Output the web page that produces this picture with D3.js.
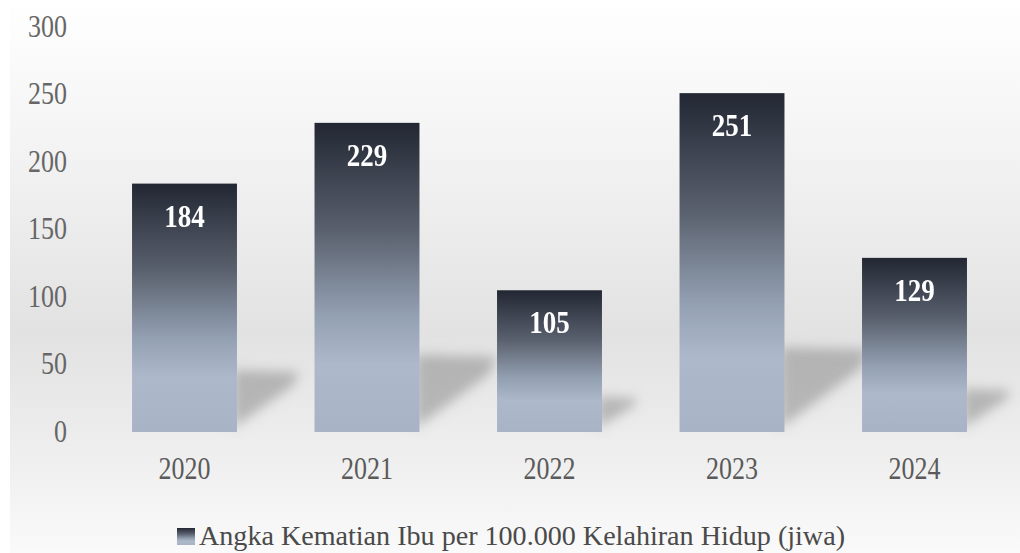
<!DOCTYPE html>
<html>
<head>
<meta charset="utf-8">
<script src="https://cdn.jsdelivr.net/npm/d3@7"></script>
<style>
  body { margin: 0; background: #fff; }
</style>
</head>
<body>
<div id="chart"></div>
<script>
const years = ["2020", "2021", "2022", "2023", "2024"];
const values = [184, 229, 105, 251, 129];
const yTicks = [0, 50, 100, 150, 200, 250, 300];
const legendLabel = "Angka Kematian Ibu per 100.000 Kelahiran Hidup (jiwa)";

const width = 1020, height = 553;
const svg = d3.select("#chart").append("svg")
  .attr("width", width)
  .attr("height", height);

const defs = svg.append("defs");

// background wash
let bg = defs.append("linearGradient").attr("id", "bg")
  .attr("x1", 0).attr("y1", 0).attr("x2", 0).attr("y2", 1);
bg.append("stop").attr("offset", "0%").attr("stop-color", "#ffffff");
bg.append("stop").attr("offset", "25%").attr("stop-color", "#f4f4f4");
bg.append("stop").attr("offset", "60%").attr("stop-color", "#e2e2e2");
bg.append("stop").attr("offset", "85%").attr("stop-color", "#f0f0f0");
bg.append("stop").attr("offset", "100%").attr("stop-color", "#fafafa");

// bar fill
let bar = defs.append("linearGradient").attr("id", "barFill")
  .attr("x1", 0).attr("y1", 0).attr("x2", 0).attr("y2", 1);
bar.append("stop").attr("offset", "0%").attr("stop-color", "#222733");
bar.append("stop").attr("offset", "35%").attr("stop-color", "#5a616e");
bar.append("stop").attr("offset", "62%").attr("stop-color", "#93a0b2");
bar.append("stop").attr("offset", "78%").attr("stop-color", "#adb9ca");
bar.append("stop").attr("offset", "100%").attr("stop-color", "#a8b4c6");

defs.append("filter").attr("id", "blur")
  .attr("x", "-50%").attr("y", "-50%").attr("width", "200%").attr("height", "200%")
  .append("feGaussianBlur").attr("stdDeviation", 6);

svg.append("rect")
  .attr("x", 10).attr("y", 0)
  .attr("width", width - 10).attr("height", height)
  .attr("fill", "url(#bg)");

const x = d3.scaleBand()
  .domain(years)
  .range([93.25, 1005.75])
  .paddingInner(0.425)
  .paddingOuter(0.2125);

const y = d3.scaleLinear()
  .domain([0, 300])
  .range([432, 27]);

// cast shadows behind the bars
svg.append("g").attr("filter", "url(#blur)")
  .selectAll("path")
  .data(values).enter()
  .append("path")
  .attr("fill", "#8a8a8a")
  .attr("opacity", 0.55)
  .attr("d", (d, i) => {
    let x1 = x(years[i]) + x.bandwidth();
    let y0 = y(0);
    let s = (y0 - y(d)) * 0.25;
    let p = d3.path();
    p.moveTo(x1 - 4, y0 - 4);
    p.lineTo(x1 - 4, y0 - s);
    p.lineTo(x1 + s, y0 - s + 2);
    p.lineTo(x1 + s * 0.9, y0 - s * 0.75);
    p.closePath();
    return p.toString();
  });

// bars
svg.append("g")
  .selectAll("rect")
  .data(values).enter()
  .append("rect")
  .attr("x", (d, i) => x(years[i]))
  .attr("y", d => y(d))
  .attr("width", x.bandwidth())
  .attr("height", d => y(0) - y(d))
  .attr("fill", "url(#barFill)");

const serif = "'Liberation Serif', 'DejaVu Serif', serif";

// value labels
svg.append("g")
  .selectAll("text")
  .data(values).enter()
  .append("text")
  .attr("transform", (d, i) => "translate(" + (x(years[i]) + x.bandwidth() / 2) + "," + (y(d) + 43) + ") scale(1,1.2)")
  .attr("text-anchor", "middle")
  .attr("font-family", serif)
  .attr("font-weight", "bold")
  .attr("font-size", 27)
  .attr("fill", "#ffffff")
  .text(d => d);

// y axis labels
const yAxis = d3.axisLeft(y).tickValues(yTicks).tickSize(0).tickPadding(0);
const gy = svg.append("g")
  .attr("transform", "translate(67,0)")
  .call(yAxis);
gy.select(".domain").remove();
gy.selectAll("text")
  .attr("font-family", serif)
  .attr("font-size", 26)
  .attr("fill", "#666666")
  .attr("dy", null)
  .attr("x", 0)
  .attr("y", 0)
  .attr("transform", "translate(0,9) scale(1,1.2)");

// x axis labels
const xAxis = d3.axisBottom(x).tickSize(0).tickPadding(0);
const gx = svg.append("g")
  .attr("transform", "translate(0,470)")
  .call(xAxis);
gx.select(".domain").remove();
gx.selectAll("text")
  .attr("font-family", serif)
  .attr("font-size", 26)
  .attr("fill", "#5a5a5a")
  .attr("dy", null)
  .attr("y", 0)
  .attr("transform", "translate(0,9) scale(1,1.2)");

// legend
const legend = svg.append("g");
legend.append("rect")
  .attr("x", 177).attr("y", 528)
  .attr("width", 18).attr("height", 17)
  .attr("fill", "url(#barFill)");
legend.append("text")
  .attr("x", 199).attr("y", 545)
  .attr("font-family", serif)
  .attr("font-size", 27)
  .attr("fill", "#4a4a4a")
  .attr("textLength", 646)
  .attr("lengthAdjust", "spacingAndGlyphs")
  .text(legendLabel);
</script>
</body>
</html>
